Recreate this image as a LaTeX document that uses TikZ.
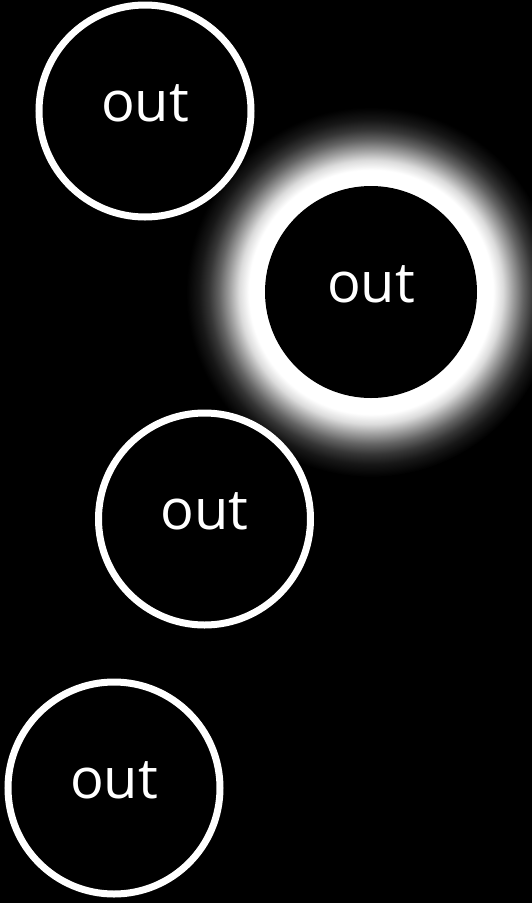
\documentclass[tikz,border=0pt]{standalone}
\usepackage{fontspec}
\setmainfont{Open Sans}
\usepackage{tikz}
\usepackage{xcolor}
\pgfdeclareradialshading{halo}{\pgfpoint{0bp}{0bp}}{color(0bp)=(white); color(16.49bp)=(white); color(17.84bp)=(white!86!black); color(19.19bp)=(white!62!black); color(20.54bp)=(white!39!black); color(21.89bp)=(white!21!black); color(23.24bp)=(white!9!black); color(24.59bp)=(white!2!black); color(25bp)=(black); color(50bp)=(black)}

\begin{document}
\begin{tikzpicture}[x=1pt,y=-1pt,
  ring/.style={circle,draw=white,line width=7pt,fill=black,minimum size=212pt,inner sep=0pt},
  hole/.style={circle,fill=black,minimum size=212pt,inner sep=0pt},
  word/.style={text=white,inner sep=0pt,font=\fontsize{56}{60}\selectfont}]
\useasboundingbox[fill=black] (0,0) rectangle (532,903);
% glow behind the second circle
\shade[shading=halo] (371,292) circle (185);
\node[hole] (outB) at (371,292) {};
\node[ring] (outA) at (145,111) {};
\node[ring] (outC) at (204.5,519) {};
\node[ring] (outD) at (114,788) {};
\node[word] (outAtext) at ([yshift=8pt]outA.center) {out};
\node[word] (outBtext) at ([yshift=8pt]outB.center) {out};
\node[word] (outCtext) at ([yshift=8pt]outC.center) {out};
\node[word] (outDtext) at ([yshift=8pt]outD.center) {out};
\end{tikzpicture}
\end{document}
